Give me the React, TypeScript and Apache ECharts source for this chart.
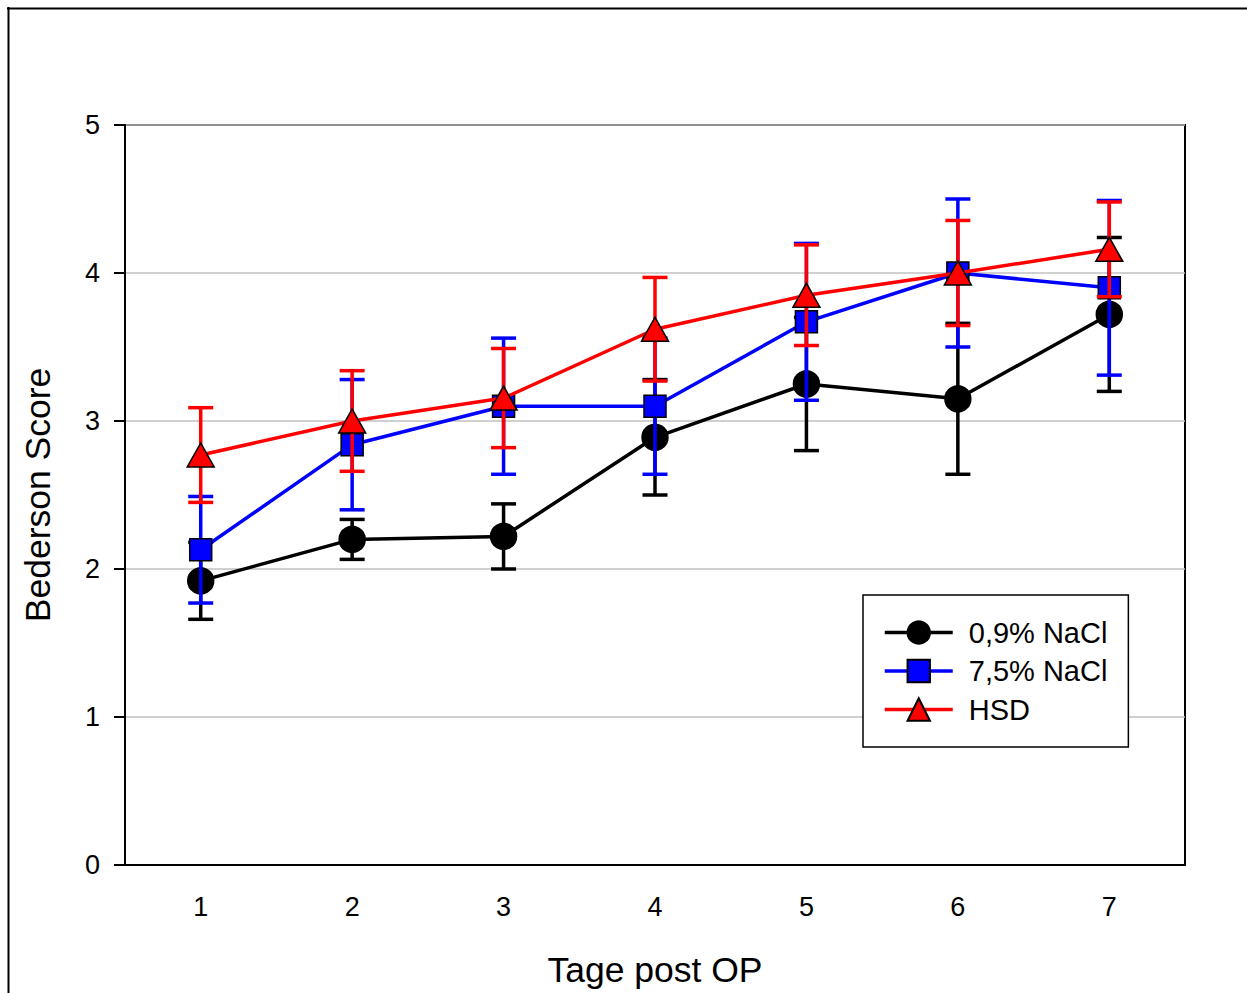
import React, { useEffect, useRef } from "react";
import * as echarts from "echarts";

const days = ["1", "2", "3", "4", "5", "6", "7"];
const yTicks = [0, 1, 2, 3, 4, 5];

const nacl09 = [1.92, 2.2, 2.22, 2.89, 3.25, 3.15, 3.72];
const nacl09Err = [0.26, 0.135, 0.22, 0.39, 0.45, 0.51, 0.52];
const nacl75 = [2.13, 2.84, 3.1, 3.1, 3.67, 4.0, 3.9];
const nacl75Err = [0.36, 0.44, 0.46, 0.46, 0.53, 0.5, 0.59];
const hsd = [2.77, 3.0, 3.155, 3.62, 3.85, 4.0, 4.16];
const hsdErr = [0.32, 0.34, 0.335, 0.35, 0.34, 0.355, 0.32];

const seriesNames = ["0,9% NaCl", "7,5% NaCl", "HSD"];

const FONT = "Arial, 'Liberation Sans', sans-serif";

function errData(mean: number[], err: number[]) {
  return mean.map((m, i) => [i, m - err[i], m + err[i]]);
}

function errSeries(name: string, mean: number[], err: number[], color: string, z: number) {
  return {
    type: "custom",
    name,
    z,
    silent: true,
    encode: { x: 0, y: [1, 2] },
    data: errData(mean, err),
    renderItem: (params: any, api: any) => {
      const x = api.value(0);
      const lo = api.coord([x, api.value(1)]);
      const hi = api.coord([x, api.value(2)]);
      const hw = 12.5;
      const st = { stroke: color, lineWidth: 3.5 };
      return {
        type: "group",
        children: [
          { type: "line", shape: { x1: lo[0], y1: lo[1], x2: hi[0], y2: hi[1] }, style: st },
          { type: "line", shape: { x1: lo[0] - hw, y1: lo[1], x2: lo[0] + hw, y2: lo[1] }, style: st },
          { type: "line", shape: { x1: hi[0] - hw, y1: hi[1], x2: hi[0] + hw, y2: hi[1] }, style: st },
        ],
      };
    },
  };
}

function lineSeries(name: string, data: number[], color: string, symbol: string, size: any, z: number) {
  return {
    type: "line",
    name,
    z,
    data,
    symbol,
    symbolSize: size,
    showAllSymbol: true,
    lineStyle: { color, width: 3.5 },
    itemStyle: { color, borderColor: "#000", borderWidth: 1.5, opacity: 1 },
  };
}

export default function App() {
  const ref = useRef<HTMLDivElement>(null);
  useEffect(() => {
    if (!ref.current) return;
    const chart = echarts.init(ref.current, null, { renderer: "svg" });
    chart.setOption({
      animation: false,
      backgroundColor: "#fff",
      textStyle: { fontFamily: FONT },
      grid: {
        left: 125,
        top: 125,
        width: 1060,
        height: 740,
        show: true,
        borderColor: "#000",
        borderWidth: 2,
        backgroundColor: "transparent",
      },
      xAxis: {
        type: "category",
        data: days,
        boundaryGap: true,
        axisLine: { lineStyle: { color: "#000", width: 2 } },
        axisTick: { alignWithLabel: true, length: 11, lineStyle: { color: "#000", width: 2 } },
        axisLabel: { color: "#000", fontSize: 27, fontFamily: FONT, margin: 28 },
        splitLine: { show: false },
      },
      yAxis: {
        type: "value",
        min: yTicks[0],
        max: yTicks[yTicks.length - 1],
        interval: 1,
        axisLine: { show: true, lineStyle: { color: "#000", width: 2 } },
        axisTick: { show: true, length: 11, lineStyle: { color: "#000", width: 2 } },
        axisLabel: { color: "#000", fontSize: 27, fontFamily: FONT, margin: 25 },
        splitLine: { show: true, lineStyle: { color: "#c0c0c0", width: 1.5 } },
      },
      legend: {
        orient: "vertical",
        left: 863,
        top: 595,
        data: seriesNames,
        padding: [23, 21, 23, 20],
        itemWidth: 68,
        itemHeight: 28,
        itemGap: 9.5,
        borderColor: "#000",
        borderWidth: 1.5,
        backgroundColor: "#fff",
        lineStyle: { width: 3.5 },
        textStyle: { color: "#000", fontSize: 29, fontFamily: FONT, padding: [0, 0, 0, 11] },
      },
      graphic: [
        { type: "line", shape: { x1: 7, y1: 8.5, x2: 1247, y2: 8.5 }, style: { stroke: "#000", lineWidth: 2 } },
        { type: "line", shape: { x1: 8.5, y1: 7, x2: 8.5, y2: 993 }, style: { stroke: "#000", lineWidth: 2 } },
        {
          type: "text",
          x: 655,
          y: 970,
          style: { text: "Tage post OP", fontSize: 35.5, fontFamily: FONT, fill: "#000", align: "center", verticalAlign: "middle" },
        },
        {
          type: "text",
          x: 38,
          y: 495,
          rotation: Math.PI / 2,
          style: { text: "Bederson Score", fontSize: 35.5, fontFamily: FONT, fill: "#000", align: "center", verticalAlign: "middle" },
        },
      ],
      series: [
        errSeries("err0", nacl09, nacl09Err, "#000000", 2),
        lineSeries(seriesNames[0], nacl09, "#000000", "circle", 26, 3),
        errSeries("err1", nacl75, nacl75Err, "#0000ff", 4),
        lineSeries(seriesNames[1], nacl75, "#0000ff", "rect", 22, 5),
        errSeries("err2", hsd, hsdErr, "#ff0000", 6),
        lineSeries(seriesNames[2], hsd, "#ff0000", "triangle", [27, 24], 7),
      ],
    });
    return () => chart.dispose();
  }, []);
  return <div ref={ref} style={{ position: "absolute", left: 0, top: 0, width: 1247, height: 993 }} />;
}
